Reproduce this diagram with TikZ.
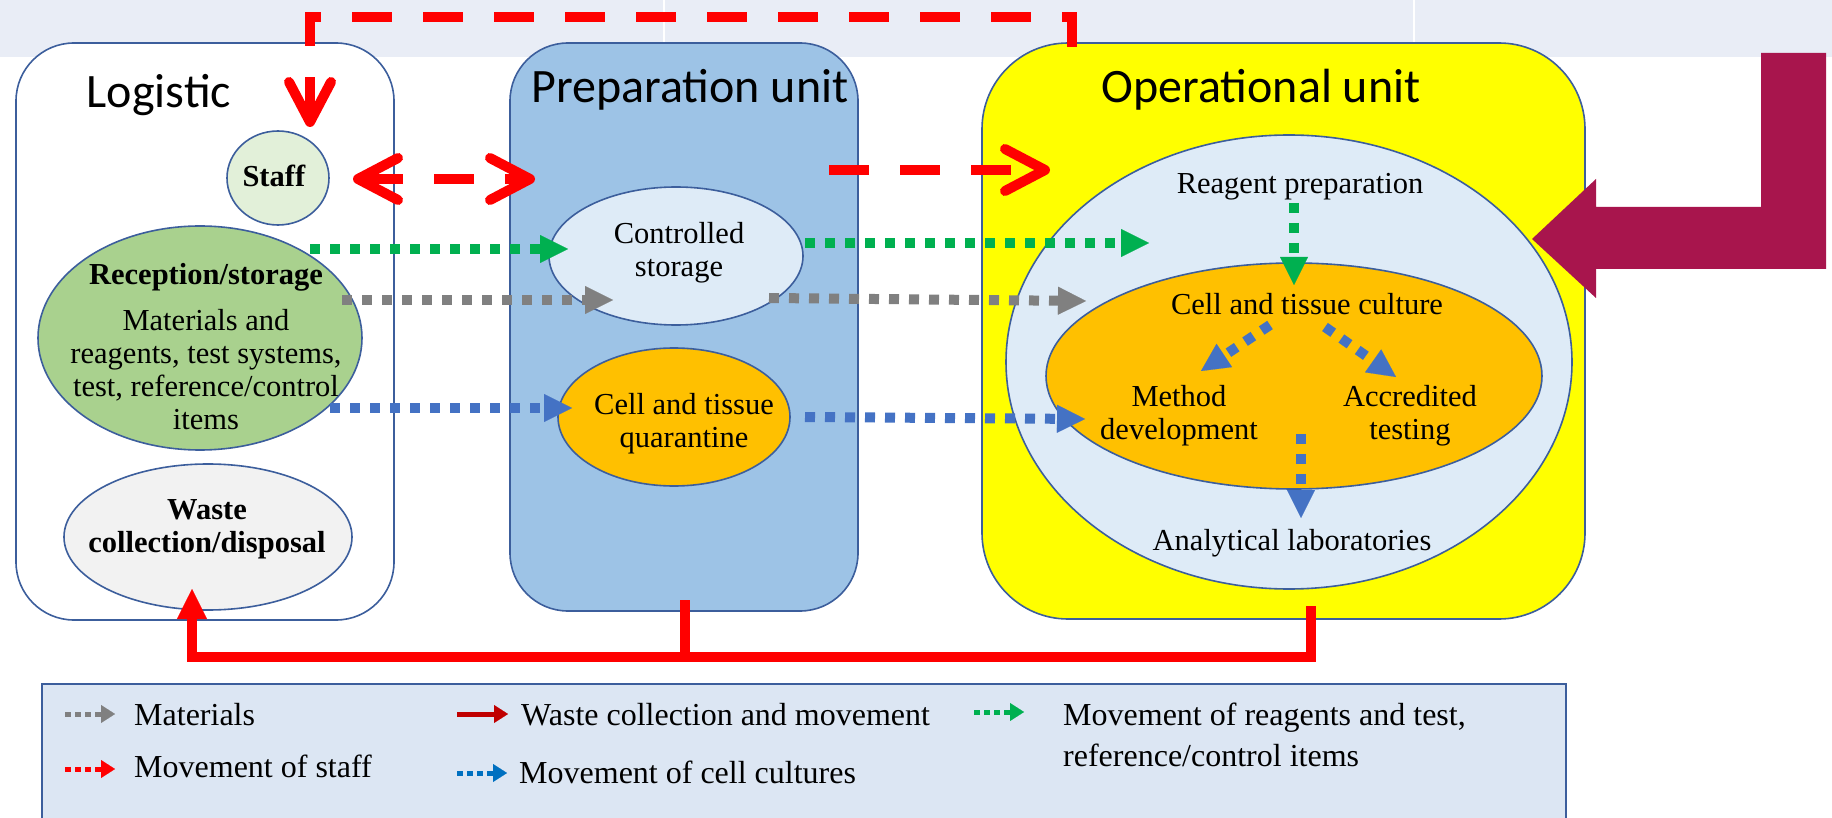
\documentclass[tikz,border=0pt]{standalone}
\usepackage{fontspec}
\setmainfont{Liberation Serif}
\newfontfamily\titlefont{Carlito}
\usetikzlibrary{arrows.meta,shapes.geometric}
\definecolor{bandc}{HTML}{E9EDF6}
\definecolor{edgec}{HTML}{3C5E9C}
\definecolor{prepc}{HTML}{9DC3E6}
\definecolor{opc}{HTML}{FFFF00}
\definecolor{paleblue}{HTML}{DEEBF7}
\definecolor{orangec}{HTML}{FFC000}
\definecolor{staffc}{HTML}{E2F0D9}
\definecolor{recc}{HTML}{A9D18E}
\definecolor{wastec}{HTML}{F2F2F2}
\definecolor{redc}{HTML}{FF0000}
\definecolor{greenc}{HTML}{00B050}
\definecolor{grayc}{HTML}{808080}
\definecolor{bluec}{HTML}{4472C4}
\definecolor{maroonc}{HTML}{A8154D}
\definecolor{legendc}{HTML}{DCE6F3}
\definecolor{darkredc}{HTML}{C00000}
\definecolor{legblue}{HTML}{0070C0}
\newcommand\mainsz{\fontsize{30.5}{33}\selectfont}
\newcommand\legsz{\fontsize{32}{41}\selectfont}
\begin{document}
\begin{tikzpicture}[x=1pt,y=-1pt,
  unitbox/.style={rectangle, draw=edgec, line width=1.6pt, rounded corners=58pt, inner sep=0pt},
  ell/.style={ellipse, draw=edgec, line width=1.6pt, inner sep=0pt},
  ttl/.style={font=\titlefont\fontsize{48}{52}\selectfont, inner sep=0pt},
  txt/.style={font=\mainsz, align=center, inner sep=0pt},
  legtxt/.style={font=\legsz, align=left, inner sep=0pt},
  flow/.style={line width=10pt, dash pattern=on 10pt off 10pt, -{Triangle[length=28pt,width=28pt,line width=0.1pt]}},
  staffmove/.style={draw=redc, line width=10pt, dash pattern=on 40pt off 31pt},
  barbend/.style={-{Straight Barb[length=40pt,width=42pt,round]}},
  barbstart/.style={{Straight Barb[length=40pt,width=42pt,round]}-},
  barbboth/.style={{Straight Barb[length=40pt,width=42pt,round]}-{Straight Barb[length=40pt,width=42pt,round]}},
  wasteline/.style={draw=redc, line width=10pt, line join=miter},
  legflow/.style={line width=5pt, dash pattern=on 6pt off 4pt, -{Triangle[length=14pt,width=18pt,line width=0.1pt]}},
]
\clip (0,0) rectangle (1832,818);
\fill[white] (0,0) rectangle (1832,818);
\fill[bandc] (0,0) rectangle (1832,57);
\draw[white, line width=2pt] (664,0) -- (664,57) (1414,0) -- (1414,57);

% unit boxes
\node[unitbox, fill=white, minimum width=378pt, minimum height=577pt] (logbox) at (205,331.5) {};
\node[unitbox, fill=prepc, minimum width=348pt, minimum height=568pt] (prepbox) at (684,327) {};
\node[unitbox, fill=opc, rounded corners=86pt, minimum width=603pt, minimum height=576pt] (opbox) at (1283.5,331) {};

\node[ttl] (logt) at (159,95) {Logistic};
\node[ttl] (prept) at (690,90) {Preparation unit};
\node[ttl] (opt) at (1261,90) {Operational unit};

% logistic ellipses
\node[ell, fill=staffc, minimum width=102pt, minimum height=94pt] (staff) at (278,178) {};
\node[txt] (stafft) at (274,176) {\textbf{Staff}};
\node[ell, fill=recc, minimum width=324pt, minimum height=224pt] (rec) at (200,338) {};
\node[txt] (rect) at (206,347) {\textbf{Reception/storage}\\[13pt]Materials and\\reagents, test systems,\\test, reference/control\\items};
\node[ell, fill=wastec, minimum width=288pt, minimum height=146pt] (waste) at (208,537) {};
\node[txt] (wastet) at (207,529) {\textbf{Waste}\\\textbf{collection/disposal}};

% preparation ellipses
\node[ell, fill=paleblue, minimum width=254pt, minimum height=138pt] (ctrl) at (676,256) {};
\node[txt] (ctrlt) at (679,253) {Controlled\\storage};
\node[ell, fill=orangec, minimum width=232pt, minimum height=138pt] (quar) at (674,417) {};
\node[txt] (quart) at (684,424) {Cell and tissue\\quarantine};

% operational ellipses
\node[ell, fill=paleblue, minimum width=566pt, minimum height=454pt] (lab) at (1289,362) {};
\node[ell, fill=orangec, minimum width=496pt, minimum height=226pt] (cult) at (1294,376) {};
\node[txt] (reag) at (1300,187) {Reagent preparation};
\node[txt] (cultt) at (1307,304) {Cell and tissue culture};
\node[txt] (meth) at (1179,416) {Method\\development};
\node[txt] (accr) at (1410,416) {Accredited\\testing};
\node[txt] (anal) at (1292,543) {Analytical laboratories};

% coordinates for connector ends
\coordinate (g1s) at (310,249); \coordinate (g1e) at (568,249);
\coordinate (k1s) at (342,300); \coordinate (k1e) at (613,300);
\coordinate (b1s) at (330,408); \coordinate (b1e) at (572,408);
\coordinate (g2s) at (805,243); \coordinate (g2e) at (1149,243);
\coordinate (k2s) at (769,298); \coordinate (k2e) at (1086,301);
\coordinate (b2s) at (805,417); \coordinate (b2e) at (1085,419);
\coordinate (g3s) at (1294,203); \coordinate (g3e) at (1294,285);
\coordinate (bls) at (1270,325); \coordinate (ble) at (1201,371);
\coordinate (brs) at (1325,327); \coordinate (bre) at (1396,377);
\coordinate (bds) at (1301,434); \coordinate (bde) at (1301,518);

\draw[flow, greenc] (g1s) -- (g1e);
\draw[flow, grayc] (k1s) -- (k1e);
\draw[flow, bluec] (b1s) -- (b1e);
\draw[flow, greenc] (g2s) -- (g2e);
\draw[flow, grayc] (k2s) -- (k2e);
\draw[flow, bluec] (b2s) -- (b2e);
\draw[flow, greenc] (g3s) -- (g3e);
\draw[flow, bluec] (bls) -- (ble);
\draw[flow, bluec] (brs) -- (bre);
\draw[flow, bluec] (bds) -- (bde);

% staff movement
\coordinate (opTop) at (1072,52); \coordinate (tR) at (1072,17);
\coordinate (tL) at (310,17); \coordinate (staffIn) at (310,127);
\draw[staffmove, barbstart] (staffIn) -- (tL) -- (tR) -- (opTop);
\coordinate (sL) at (353,179); \coordinate (sR) at (535,179);
\draw[staffmove, barbboth] (sL) -- (sR);
\coordinate (pL) at (829,170); \coordinate (pR) at (1050,170);
\draw[staffmove, barbend] (pL) -- (pR);

% waste
\coordinate (prepDrop) at (685,600); \coordinate (prepJ) at (685,657);
\coordinate (opDrop) at (1311,606); \coordinate (opJ) at (1311,657);
\coordinate (wasteIn) at (192,589);
\draw[wasteline] (prepDrop) -- (prepJ);
\draw[wasteline, -{Triangle[length=30pt,width=30pt,line width=0.1pt]}] (opDrop) -- (opJ) -| (wasteIn);

% big input arrow
\fill[maroonc] (1826,53) -- (1761,53) -- (1761,207) -- (1596,207) -- (1596,179) -- (1532,239) -- (1596,298) -- (1596,269) -- (1826,269) -- cycle;

% legend
\node[rectangle, draw=edgec, fill=legendc, line width=1.6pt, minimum width=1524pt, minimum height=150pt, inner sep=0pt] (legend) at (804,759) {};
\coordinate (l1s) at (65,714); \coordinate (l1e) at (115,714);
\draw[legflow, grayc] (l1s) -- (l1e);
\node[legtxt, anchor=base west] (l1t) at (134,725) {Materials};
\coordinate (l2s) at (65,769); \coordinate (l2e) at (115,769);
\draw[legflow, redc] (l2s) -- (l2e);
\node[legtxt, anchor=base west] (l2t) at (134,777) {Movement of staff};
\coordinate (l3s) at (457,714); \coordinate (l3e) at (508,714);
\draw[line width=5pt, darkredc, -{Triangle[length=14pt,width=18pt,line width=0.1pt]}] (l3s) -- (l3e);
\node[legtxt, anchor=base west] (l3t) at (521,725) {Waste collection and movement};
\coordinate (l4s) at (457,773); \coordinate (l4e) at (507,773);
\draw[legflow, legblue] (l4s) -- (l4e);
\node[legtxt, anchor=base west] (l4t) at (519,783) {Movement of cell cultures};
\coordinate (l5s) at (974,712); \coordinate (l5e) at (1024,712);
\draw[legflow, greenc] (l5s) -- (l5e);
\node[legtxt, anchor=north west] (l5t) at (1063,703) {Movement of reagents and test,\\reference/control items};
\end{tikzpicture}
\end{document}
